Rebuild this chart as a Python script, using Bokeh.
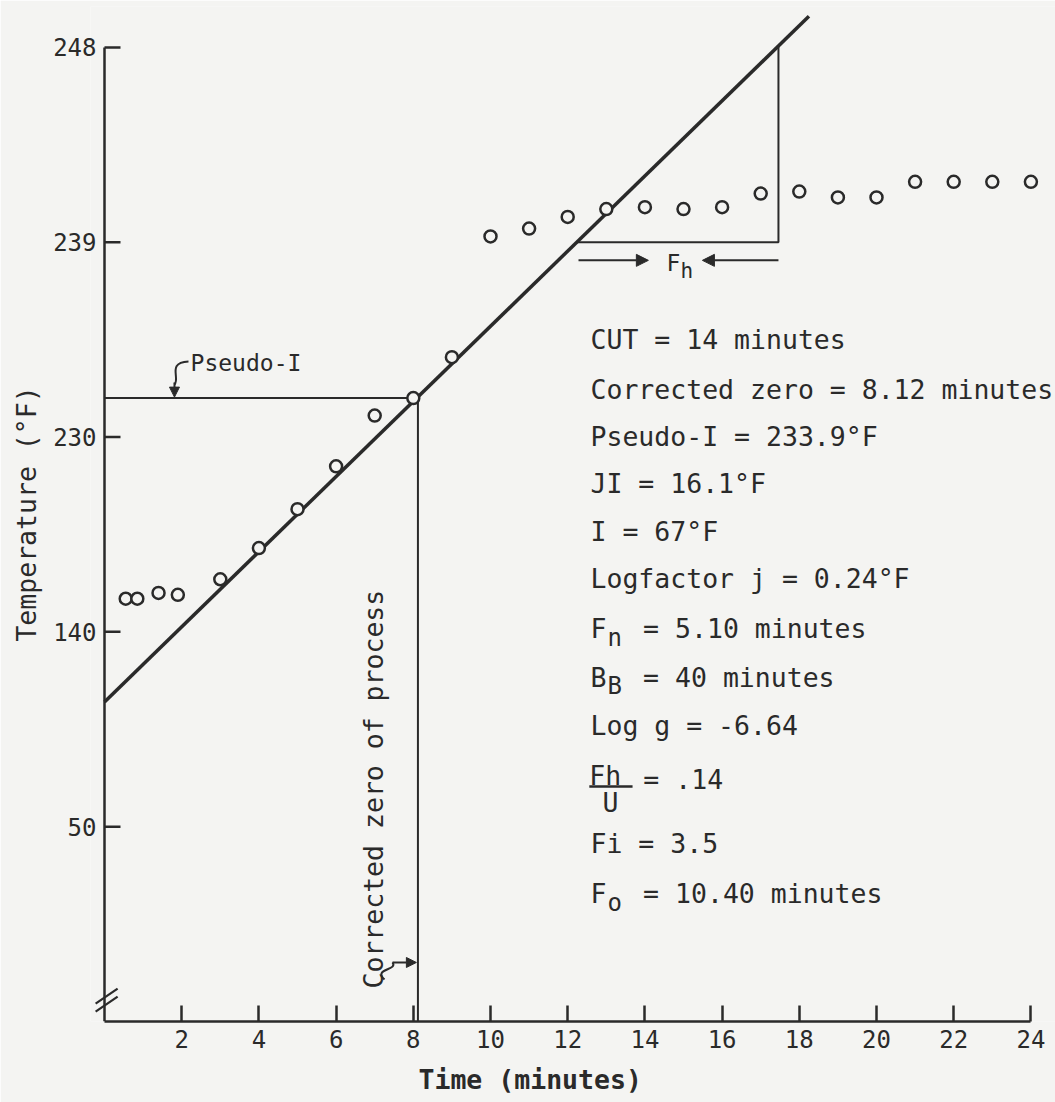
import numpy as np
from bokeh.plotting import figure
from bokeh.models import Range1d, FixedTicker, Arrow, NormalHead, Title, ColumnDataSource
from bokeh.core.properties import value
from bokeh.embed import file_html
from bokeh.resources import INLINE

# ---------------- data ----------------
# time of each temperature reading, minutes
time_min = [0.55, 0.85, 1.4, 1.9, 3, 4, 5, 6, 7, 8, 9, 10, 11, 12,
            13, 14, 15, 16, 17, 18, 19, 20, 21, 22, 23, 24]
# position of each reading on the (semi-log) temperature scale,
# in units of the labelled divisions (50 -> 1, 140 -> 2, 230 -> 3, 239 -> 4, 248 -> 5)
temp_scale_pos = [2.17, 2.17, 2.20, 2.19, 2.27, 2.43, 2.63, 2.85, 3.11, 3.20,
                  3.41, 4.03, 4.07, 4.13, 4.17, 4.18, 4.17, 4.18, 4.25, 4.26,
                  4.23, 4.23, 4.31, 4.31, 4.31, 4.31]

# labelled temperature divisions
temp_tick_pos = [1, 2, 3, 4, 5]
temp_tick_labels = ["50", "140", "230", "239", "248"]
time_ticks = [2, 4, 6, 8, 10, 12, 14, 16, 18, 20, 22, 24]

# fitted heating line (two end points)
fit_time = [0.0, 18.25]
fit_pos = [1.64, 5.16]

corrected_zero = 8.12          # minutes
pseudo_I_pos = 3.20            # scale position of pseudo-I
fh_start, fh_end = 12.23, 17.46  # one log cycle (Fh)
fh_level, fh_top = 4.0, 5.01

stat_rows = [
    ("CUT = 14 minutes", "", ""),
    ("Corrected zero = 8.12 minutes", "", ""),
    ("Pseudo-I = 233.9°F", "", ""),
    ("JI = 16.1°F", "", ""),
    ("I = 67°F", "", ""),
    ("Logfactor j = 0.24°F", "", ""),
    ("F", "n", "= 5.10 minutes"),
    ("B", "B", "= 40 minutes"),
    ("Log g = -6.64", "", ""),
    ("Fi = 3.5", "", ""),
    ("F", "o", "= 10.40 minutes"),
]

# ---------------- layout / style ----------------
INK = "#2a2a2a"
BG = "#f4f4f2"
MONO = "DejaVu Sans Mono"
FS = 26.5
CW = 0.602 * FS  # monospace advance

stat_y = [3.50, 3.245, 3.003, 2.762, 2.515, 2.274, 2.017, 1.766, 1.520, 0.914, 0.657]
stat_x = 12.59

PX_PER_MIN = 38.6
x0 = -14 / PX_PER_MIN
TICK_LEN = 16 / PX_PER_MIN
p = figure(frame_width=965, frame_height=1015,
           x_range=Range1d(x0, x0 + 965 / PX_PER_MIN), y_range=Range1d(0, 5.21),
           min_border_left=90, min_border_right=0, min_border_top=6, min_border_bottom=81,
           output_backend="svg", toolbar_location=None,
           background_fill_color=BG, border_fill_color=BG, outline_line_color=None)
p.xgrid.grid_line_color = None
p.ygrid.grid_line_color = None

xa = p.xaxis[0]
xa.axis_line_width = 2.5
xa.axis_line_color = INK
xa.major_tick_line_width = 2.5
xa.major_tick_line_color = INK
xa.major_tick_in = 16
xa.major_tick_out = 0
xa.minor_tick_line_color = None
xa.major_label_standoff = 8
xa.ticker = FixedTicker(ticks=time_ticks)
xa.bounds = (0, 24)

ya = p.yaxis[0]
ya.axis_line_color = None
ya.major_tick_line_color = None
ya.minor_tick_line_color = None
ya.major_tick_in = 0
ya.major_tick_out = 0
ya.major_label_standoff = -6
ya.ticker = FixedTicker(ticks=temp_tick_pos)
ya.major_label_overrides = {t: l for t, l in zip(temp_tick_pos, temp_tick_labels)}
ya.axis_label = "Temperature (°F)"
ya.axis_label_text_font = MONO
ya.axis_label_text_font_size = f"{FS}px"
ya.axis_label_text_font_style = "normal"
ya.axis_label_text_color = INK
ya.axis_label_standoff = 8

for ax in (xa, ya):
    ax.major_label_text_font = MONO
    ax.major_label_text_font_size = "24px"
    ax.major_label_text_color = INK

# temperature axis line and inward ticks at the time origin
p.line([0, 0], [0, temp_tick_pos[-1]], line_color=INK, line_width=2.5)
p.segment(x0=[0] * len(temp_tick_pos), y0=temp_tick_pos,
          x1=[TICK_LEN] * len(temp_tick_pos), y1=temp_tick_pos,
          line_color=INK, line_width=2.5)

p.add_layout(Title(text="Time (minutes)", align="left", offset=328,
                   text_font=MONO, text_font_size=f"{FS}px", text_font_style="bold",
                   text_color=INK, standoff=22), "below")

# axis break marks
for y0 in (0.092, 0.051):
    p.add_layout(Arrow(end=None, x_start=-0.23, y_start=y0, x_end=0.34, y_end=y0 + 0.077,
                       line_color=INK, line_width=2.2))

# fitted line
p.line(fit_time, fit_pos, line_color=INK, line_width=3.5)

# pseudo-I and corrected zero construction lines
p.line([0, corrected_zero], [pseudo_I_pos, pseudo_I_pos], line_color=INK, line_width=2)
p.line([corrected_zero, corrected_zero], [0, pseudo_I_pos], line_color=INK, line_width=2)

# Fh triangle
p.line([fh_start, fh_end, fh_end], [fh_level, fh_level, fh_top], line_color=INK, line_width=2)
head = dict(size=12, fill_color=INK, line_color=INK)
p.add_layout(Arrow(end=NormalHead(**head), x_start=12.28, y_start=3.907, x_end=14.09, y_end=3.907,
                   line_color=INK, line_width=2))
p.add_layout(Arrow(end=NormalHead(**head), x_start=17.46, y_start=3.907, x_end=15.49, y_end=3.907,
                   line_color=INK, line_width=2))
p.text(x=[14.56], y=[3.891], text=["F"], text_font=value(MONO), text_font_size=value("23px"),
       text_color=INK, text_align="left", text_baseline="middle")
p.text(x=[14.56], y=[3.891], text=["h"], x_offset=14, y_offset=8, text_font=value(MONO),
       text_font_size=value("21px"), text_color=INK, text_align="left", text_baseline="middle")

# Pseudo-I label with curly arrow
p.text(x=[2.23], y=[3.378], text=["Pseudo-I"], text_font=value(MONO), text_font_size=value("23px"),
       text_color=INK, text_align="left", text_baseline="middle")
p.bezier(x0=[2.176], y0=[3.388], cx0=[1.606], cy0=[3.383], cx1=[1.969], cy1=[3.301],
         x1=[1.813], y1=[3.270], line_color=INK, line_width=2)
p.add_layout(Arrow(end=NormalHead(size=10, fill_color=INK, line_color=INK),
                   x_start=1.813, y_start=3.28, x_end=1.813, y_end=3.205,
                   line_color=INK, line_width=2))

# Corrected zero label with curly arrow
p.text(x=[6.97], y=[0.169], text=["Corrected zero of process"], angle=np.pi / 2,
       text_font=value(MONO), text_font_size=value(f"{FS}px"), text_color=INK,
       text_align="left", text_baseline="middle")
p.bezier(x0=[7.254], y0=[0.2156], cx0=[6.943], cy0=[0.272], cx1=[7.617], cy1=[0.262],
         x1=[7.461], y1=[0.303], line_color=INK, line_width=2)
p.add_layout(Arrow(end=NormalHead(size=10, fill_color=INK, line_color=INK),
                   x_start=7.461, y_start=0.303, x_end=8.08, y_end=0.303,
                   line_color=INK, line_width=2))

# statistics block
heads = ColumnDataSource(dict(x=[stat_x] * len(stat_rows), y=stat_y,
                              t=[r[0] for r in stat_rows]))
subs = ColumnDataSource(dict(x=[stat_x] * len(stat_rows), y=stat_y,
                             t=[r[1] for r in stat_rows],
                             xo=[CW * len(r[0]) + 1 for r in stat_rows]))
tails = ColumnDataSource(dict(x=[stat_x] * len(stat_rows), y=stat_y,
                              t=[r[2] for r in stat_rows],
                              xo=[CW * (len(r[0]) + len(r[1]) + 1.3) for r in stat_rows]))
txt = dict(text_font=value(MONO), text_color=INK, text_align="left", text_baseline="middle")
p.text(x="x", y="y", text="t", source=heads, text_font_size=value(f"{FS}px"), **txt)
p.text(x="x", y="y", text="t", source=subs, x_offset="xo", y_offset=9,
       text_font_size=value("24px"), **txt)
p.text(x="x", y="y", text="t", source=tails, x_offset="xo",
       text_font_size=value(f"{FS}px"), **txt)

# Fh / U fraction
p.text(x=[12.56], y=[1.263], text=["Fh"], text_font_size=value(f"{FS}px"), **txt)
p.line([12.56, 13.68], [1.206, 1.206], line_color=INK, line_width=2.5)
p.text(x=[13.11], y=[1.124], text=["U"], text_font=value(MONO), text_color=INK,
       text_align="center", text_baseline="middle", text_font_size=value(f"{FS}px"))
p.text(x=[13.96], y=[1.242], text=["= .14"], text_font_size=value(f"{FS}px"), **txt)

# data points
p.scatter(time_min, temp_scale_pos, marker="circle", size=12, fill_color=BG,
          line_color=INK, line_width=2.5)

open("out.html", "w").write(file_html(p, INLINE))
